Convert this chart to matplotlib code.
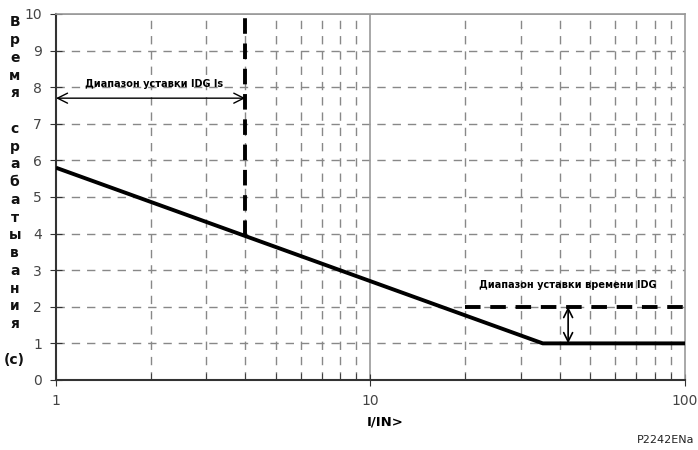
import matplotlib
matplotlib.use('Agg')
import matplotlib.pyplot as plt
from matplotlib.ticker import FixedLocator, NullFormatter

# IDG characteristic: time vs. multiple of setting
curve_x = [1, 35.3, 100]
curve_t = [5.8, 1.0, 1.0]

# setting range markers
is_setting = 4
is_top = 10
is_bottom = 3.93
time_setting_x = [20, 100]
time_setting_t = [2, 2]
arrow_time_x = 42.5
arrow_is_t = 7.7

y_ticks = list(range(0, 11))
x_major = [1, 10, 100]
x_minor = [2, 3, 4, 5, 6, 7, 8, 9, 20, 30, 40, 50, 60, 70, 80, 90]

fig = plt.figure(figsize=(6.98, 4.5), dpi=100)
ax = fig.add_axes([0.0802, 0.1556, 0.9012, 0.8133])
ax.set_xscale('log')
ax.set_xlim(1, 100)
ax.set_ylim(0, 10)

ax.xaxis.set_major_locator(FixedLocator(x_major))
ax.xaxis.set_minor_locator(FixedLocator(x_minor))
ax.xaxis.set_minor_formatter(NullFormatter())
ax.set_xticklabels(['1', '10', '100'])
ax.set_yticks(y_ticks)

# grid
for yv in y_ticks[1:-1]:
    ax.axhline(yv, color='#888888', lw=1.0, ls=(0, (6, 5)), zorder=1)
ax.axhline(10, color='#999999', lw=1.2, zorder=1)
for xv in x_minor:
    ax.axvline(xv, color='#888888', lw=1.0, ls=(0, (6, 5)), zorder=1)
ax.axvline(10, color='#999999', lw=1.2, zorder=1)

for s in ['top', 'right']:
    ax.spines[s].set_color('#999999')
    ax.spines[s].set_linewidth(1.2)
for s in ['left', 'bottom']:
    ax.spines[s].set_color('#333333')
    ax.spines[s].set_linewidth(1.5)

ax.tick_params(axis='both', which='major', direction='inout', length=8,
               color='#333333', labelsize=10, labelcolor='#444444')
ax.tick_params(axis='x', which='minor', direction='in', length=5, color='#333333')
ax.tick_params(axis='x', which='major', pad=6)
ax.tick_params(axis='y', which='major', pad=6)

# main curve
ax.plot(curve_x, curve_t, color='black', lw=2.8, zorder=4, solid_capstyle='butt')

# Is setting range
ax.plot([is_setting, is_setting], [is_bottom, is_top], color='black', lw=2.8,
        ls=(0, (4, 2.5)), zorder=4)
ax.annotate('', xy=(1.0, arrow_is_t), xytext=(is_setting, arrow_is_t),
            arrowprops=dict(arrowstyle='<->', color='black', lw=1.0,
                            mutation_scale=18, shrinkA=0, shrinkB=0), zorder=5)
ax.text(2.05, 8.1, 'Диапазон уставки IDG Is', ha='center', va='center',
        fontsize=7, fontweight='bold', zorder=5)

# time setting range
ax.plot(time_setting_x, time_setting_t, color='black', lw=2.8,
        ls=(0, (4, 2.5)), zorder=4)
ax.annotate('', xy=(arrow_time_x, 1.0), xytext=(arrow_time_x, 2.0),
            arrowprops=dict(arrowstyle='<->', color='black', lw=1.2,
                            mutation_scale=16, shrinkA=0, shrinkB=0), zorder=5)
ax.text(42.5, 2.6, 'Диапазон уставки времени IDG', ha='center', va='center',
        fontsize=7, fontweight='bold', zorder=5)

# stacked axis title
ylab = '\n'.join(list('Время') + [''] + list('срабатывания') + ['', '(с)'])
fig.text(0.021, 1 - 191 / 450, ylab, ha='center', va='center', fontsize=10,
         fontweight='bold', linespacing=1.34, color='#111111')

fig.text(385 / 698, 1 - 422 / 450, 'I/IN>', ha='center', va='center',
         fontsize=9.5, fontweight='bold')
fig.text(0.995, 1 - 440 / 450, 'P2242ENa', ha='right', va='center',
         fontsize=8, color='#222222')

fig.savefig('out.png', dpi=100)
